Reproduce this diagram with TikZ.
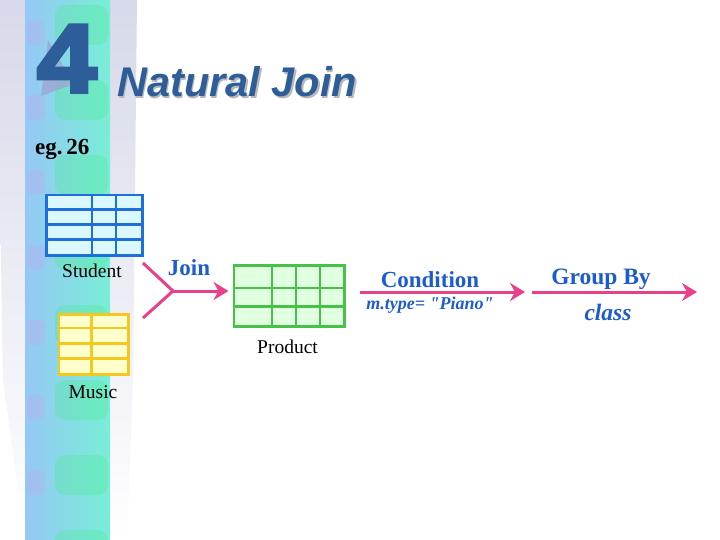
\documentclass[tikz,border=0pt]{standalone}
\usepackage{fontspec}
\setmainfont{Liberation Serif}
\newfontfamily\titlefont{Liberation Sans}[BoldFeatures={FakeBold=2}]
\newfontfamily\heavyfont{Liberation Sans}[BoldFeatures={FakeBold=4}]
\newcommand\straightq{\XeTeXglyph\XeTeXcharglyph"22\relax}
\usetikzlibrary{arrows.meta}
\definecolor{titleblue}{RGB}{46,94,154}
\definecolor{lblue}{RGB}{30,92,205}
\definecolor{pinkc}{RGB}{232,64,138}
\definecolor{sblue}{RGB}{30,110,220}
\definecolor{sfill}{RGB}{220,248,255}
\definecolor{myel}{RGB}{245,200,30}
\definecolor{yfill}{RGB}{255,255,205}
\definecolor{mgreen}{RGB}{70,195,70}
\definecolor{gfill}{RGB}{225,255,225}
\definecolor{lav}{RGB}{176,178,212}
\definecolor{stripeA}{RGB}{150,200,245}
\definecolor{stripeB}{RGB}{120,238,215}
\definecolor{blobg}{RGB}{80,235,150}
\definecolor{blobv}{RGB}{190,170,240}
\definecolor{shadow4}{RGB}{165,150,205}
\begin{document}
\begin{tikzpicture}[x=1pt,y=-1pt,
 conn/.style={draw=pinkc, line width=3pt, line join=round},
 arr/.style={conn, -{Stealth[length=15pt,width=18pt,inset=5pt]}},
 lbl/.style={font=\fontsize{19.5}{19.5}\selectfont, text=black, inner sep=0pt, anchor=base},
 blbl/.style={font=\fontsize{23}{23}\selectfont\bfseries, text=lblue, inner sep=0pt, anchor=base},
 tbl/.style={line width=2.5pt, inner sep=0pt, anchor=north west}]
\useasboundingbox (0,0) rectangle (720,540);
\fill[white] (0,0) rectangle (720,540);
% background band
\shade[top color=lav!50, middle color=lav, bottom color=white]
  (0,0) -- (137,0) -- (133,380) -- (127,540) -- (25,540) -- (3,380) -- (0,200) -- cycle;
\shade[left color=stripeA, right color=stripeB] (25,0) rectangle (110,540);
\foreach \yy in {-10,65,...,540} {
  \fill[blobg, opacity=0.35, rounded corners=10pt] (55,\yy+15) rectangle (108,\yy+55);
  \fill[blobv, opacity=0.35, rounded corners=6pt] (27,\yy+30) rectangle (45,\yy+55);
}
% title
\fill[shadow4, opacity=0.6] (48,40) -- (41,96) -- (74,84) -- cycle;
\node[font=\heavyfont\bfseries\fontsize{97}{97}\selectfont, text=titleblue, anchor=base west, inner sep=0pt, xscale=1.1] (four) at (37,92) {4};
\node[font=\titlefont\bfseries\itshape\fontsize{41.5}{41.5}\selectfont, text=gray!55, anchor=base west, inner sep=0pt] (titleshadow) at (118.5,98.5) {Natural Join};
\node[font=\titlefont\bfseries\itshape\fontsize{41.5}{41.5}\selectfont, text=titleblue, anchor=base west, inner sep=0pt] (title) at (117,97) {Natural Join};
\node[font=\bfseries\fontsize{23}{23}\selectfont, anchor=base west, inner sep=0pt] (eg) at (35,155) {eg.\,26};
% Student table
\node[tbl, draw=sblue, fill=sfill, minimum width=96pt, minimum height=60pt] (student) at (45,194) {};
\draw[sblue, line width=2.5pt] (92,194) -- (92,254) (116,194) -- (116,254)
  (45,209.5) -- (141,209.5) (45,224.5) -- (141,224.5) (45,239.5) -- (141,239.5);
\node[lbl] (studentlbl) at (92,277) {Student};
% Music table
\node[tbl, draw=myel, fill=yfill, minimum width=69.5pt, minimum height=60pt] (music) at (57.5,313) {};
\draw[myel, line width=2.5pt] (91.5,313) -- (91.5,373)
  (57.5,328) -- (127,328) (57.5,343.5) -- (127,343.5) (57.5,358.5) -- (127,358.5);
\node[lbl] (musiclbl) at (93,398) {Music};
% Product table
\node[tbl, draw=mgreen, fill=gfill, minimum width=110.5pt, minimum height=61pt] (product) at (232.5,264) {};
\draw[mgreen, line width=2.5pt] (272,264) -- (272,325) (296,264) -- (296,325) (320,264) -- (320,325)
  (232.5,288) -- (343,288) (232.5,306.5) -- (343,306.5);
\node[lbl] (productlbl) at (287.5,353) {Product};
% Join connector
\coordinate (j1) at (143,263);
\coordinate (j2) at (143,318);
\coordinate (jc) at (173,291);
\draw[conn] (j1) -- (jc) -- (j2);
\draw[arr, shorten >=4pt] (jc) -- (product.west |- jc);
\node[blbl] (joinlbl) at (189,275) {Join};
% Condition
\coordinate (c1) at (360,292);
\coordinate (c2) at (525,292);
\draw[arr] (c1) -- (c2);
\node[blbl] (condlbl) at (430,287) {Condition};
\node[font=\fontsize{18}{18}\selectfont\bfseries\itshape, text=lblue, inner sep=0pt, anchor=base] (condtxt) at (430,309) {m.type= \straightq Piano\straightq};
% Group By
\coordinate (g1) at (532,292);
\coordinate (g2) at (697,292);
\draw[arr] (g1) -- (g2);
\node[blbl, font=\fontsize{23.5}{23.5}\selectfont\bfseries] (grplbl) at (601,284) {Group By};
\node[font=\fontsize{23.5}{23.5}\selectfont\bfseries\itshape, text=lblue, inner sep=0pt, anchor=base] (grptxt) at (608,320) {class};
\end{tikzpicture}
\end{document}
